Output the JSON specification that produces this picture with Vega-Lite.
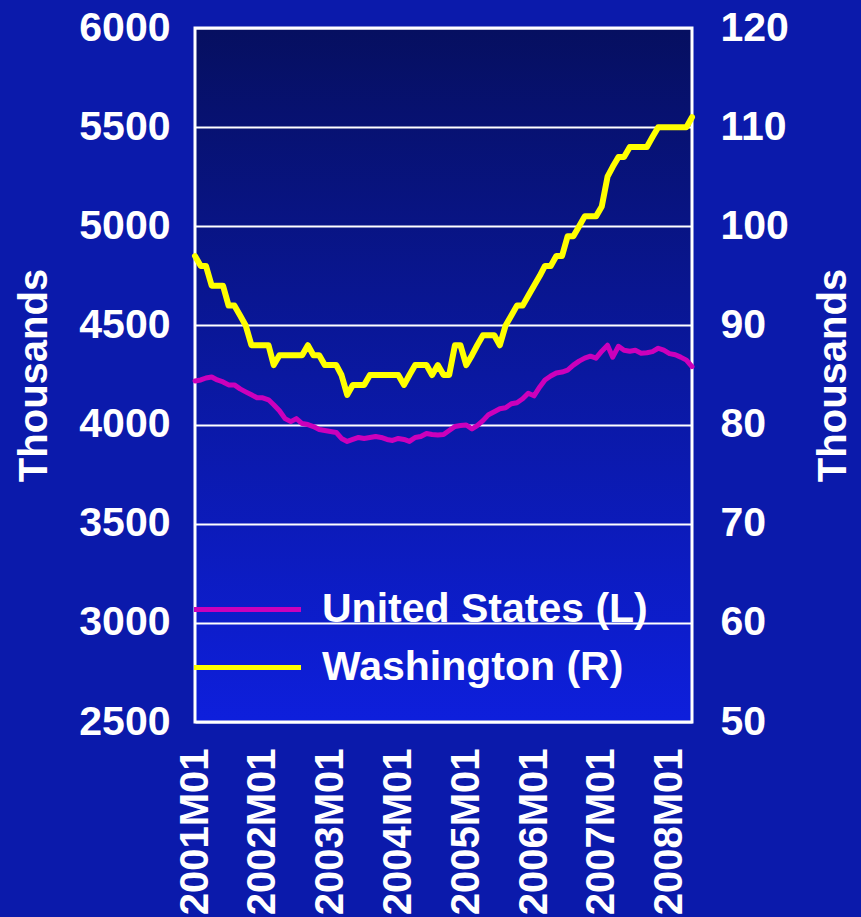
{
  "$schema": "https://vega.github.io/schema/vega-lite/v6.json",
  "width": 497,
  "height": 694,
  "autosize": {"type": "none"},
  "padding": {"left": 195, "top": 28, "right": 169, "bottom": 195},
  "background": "#0b1aab",
  "config": {
    "view": {"stroke": "white", "strokeWidth": 3, "fill": {"gradient": "linear", "x1": 0, "y1": 0, "x2": 0, "y2": 1, "stops": [{"offset": 0, "color": "#060f60"}, {"offset": 0.5, "color": "#0a18a0"}, {"offset": 1, "color": "#0e1fdc"}]}},
    "font": "Liberation Sans",
    "axis": {"labelFont": "Liberation Sans", "labelFontWeight": "bold", "labelFontSize": 41, "labelColor": "white", "labelLimit": 400, "titleFont": "Liberation Sans", "titleFontWeight": "bold", "titleFontSize": 40, "titleColor": "white", "ticks": false, "domain": false},
    "legend": {"labelFont": "Liberation Sans", "labelFontWeight": "bold", "labelFontSize": 41, "labelColor": "white", "labelLimit": 500}
  },
  "data": {"values": [
    {"d":"2001-01-01","us":4220,"wa":97},{"d":"2001-02-01","us":4225,"wa":96},{"d":"2001-03-01","us":4235,"wa":96},{"d":"2001-04-01","us":4240,"wa":94},{"d":"2001-05-01","us":4225,"wa":94},{"d":"2001-06-01","us":4215,"wa":94},{"d":"2001-07-01","us":4200,"wa":92},{"d":"2001-08-01","us":4200,"wa":92},{"d":"2001-09-01","us":4180,"wa":91},{"d":"2001-10-01","us":4165,"wa":90},{"d":"2001-11-01","us":4150,"wa":88},{"d":"2001-12-01","us":4135,"wa":88},
    {"d":"2002-01-01","us":4135,"wa":88},{"d":"2002-02-01","us":4125,"wa":88},{"d":"2002-03-01","us":4100,"wa":86},{"d":"2002-04-01","us":4070,"wa":87},{"d":"2002-05-01","us":4030,"wa":87},{"d":"2002-06-01","us":4015,"wa":87},{"d":"2002-07-01","us":4030,"wa":87},{"d":"2002-08-01","us":4005,"wa":87},{"d":"2002-09-01","us":4000,"wa":88},{"d":"2002-10-01","us":3990,"wa":87},{"d":"2002-11-01","us":3975,"wa":87},{"d":"2002-12-01","us":3970,"wa":86},
    {"d":"2003-01-01","us":3965,"wa":86},{"d":"2003-02-01","us":3960,"wa":86},{"d":"2003-03-01","us":3930,"wa":85},{"d":"2003-04-01","us":3915,"wa":83},{"d":"2003-05-01","us":3925,"wa":84},{"d":"2003-06-01","us":3935,"wa":84},{"d":"2003-07-01","us":3930,"wa":84},{"d":"2003-08-01","us":3935,"wa":85},{"d":"2003-09-01","us":3940,"wa":85},{"d":"2003-10-01","us":3935,"wa":85},{"d":"2003-11-01","us":3925,"wa":85},{"d":"2003-12-01","us":3920,"wa":85},
    {"d":"2004-01-01","us":3930,"wa":85},{"d":"2004-02-01","us":3925,"wa":84},{"d":"2004-03-01","us":3915,"wa":85},{"d":"2004-04-01","us":3935,"wa":86},{"d":"2004-05-01","us":3940,"wa":86},{"d":"2004-06-01","us":3955,"wa":86},{"d":"2004-07-01","us":3950,"wa":85},{"d":"2004-08-01","us":3948,"wa":86},{"d":"2004-09-01","us":3950,"wa":85},{"d":"2004-10-01","us":3970,"wa":85},{"d":"2004-11-01","us":3990,"wa":88},{"d":"2004-12-01","us":3995,"wa":88},
    {"d":"2005-01-01","us":3998,"wa":86},{"d":"2005-02-01","us":3978,"wa":87},{"d":"2005-03-01","us":3995,"wa":88},{"d":"2005-04-01","us":4020,"wa":89},{"d":"2005-05-01","us":4050,"wa":89},{"d":"2005-06-01","us":4065,"wa":89},{"d":"2005-07-01","us":4080,"wa":88},{"d":"2005-08-01","us":4085,"wa":90},{"d":"2005-09-01","us":4105,"wa":91},{"d":"2005-10-01","us":4110,"wa":92},{"d":"2005-11-01","us":4130,"wa":92},{"d":"2005-12-01","us":4158,"wa":93},
    {"d":"2006-01-01","us":4145,"wa":94},{"d":"2006-02-01","us":4190,"wa":95},{"d":"2006-03-01","us":4225,"wa":96},{"d":"2006-04-01","us":4245,"wa":96},{"d":"2006-05-01","us":4260,"wa":97},{"d":"2006-06-01","us":4265,"wa":97},{"d":"2006-07-01","us":4275,"wa":99},{"d":"2006-08-01","us":4300,"wa":99},{"d":"2006-09-01","us":4320,"wa":100},{"d":"2006-10-01","us":4335,"wa":101},{"d":"2006-11-01","us":4345,"wa":101},{"d":"2006-12-01","us":4335,"wa":101},
    {"d":"2007-01-01","us":4370,"wa":102},{"d":"2007-02-01","us":4400,"wa":105},{"d":"2007-03-01","us":4340,"wa":106},{"d":"2007-04-01","us":4395,"wa":107},{"d":"2007-05-01","us":4375,"wa":107},{"d":"2007-06-01","us":4370,"wa":108},{"d":"2007-07-01","us":4375,"wa":108},{"d":"2007-08-01","us":4360,"wa":108},{"d":"2007-09-01","us":4362,"wa":108},{"d":"2007-10-01","us":4368,"wa":109},{"d":"2007-11-01","us":4385,"wa":110},{"d":"2007-12-01","us":4375,"wa":110},
    {"d":"2008-01-01","us":4358,"wa":110},{"d":"2008-02-01","us":4352,"wa":110},{"d":"2008-03-01","us":4340,"wa":110},{"d":"2008-04-01","us":4325,"wa":110},{"d":"2008-05-01","us":4292,"wa":111}
  ]},
  "encoding": {
    "x": {
      "field": "d", "type": "temporal",
      "scale": {"type": "utc", "domain": [{"year": 2001, "month": 1, "date": 1, "utc": true}, {"year": 2008, "month": 5, "date": 1, "utc": true}]},
      "axis": {
        "title": null, "grid": false, "labelFontSize": 40,
        "labelExpr": "utcFormat(datum.value, '%YM%m')",
        "values": [{"year": 2001, "month": 1, "date": 1, "utc": true}, {"year": 2002, "month": 1, "date": 1, "utc": true}, {"year": 2003, "month": 1, "date": 1, "utc": true}, {"year": 2004, "month": 1, "date": 1, "utc": true}, {"year": 2005, "month": 1, "date": 1, "utc": true}, {"year": 2006, "month": 1, "date": 1, "utc": true}, {"year": 2007, "month": 1, "date": 1, "utc": true}, {"year": 2008, "month": 1, "date": 1, "utc": true}],
        "labelAngle": 270, "labelAlign": "right", "labelBaseline": "middle", "labelPadding": 26, "labelOverlap": false, "labelFlush": false
      }
    }
  },
  "layer": [
    {
      "mark": {"type": "line", "strokeWidth": 5, "strokeJoin": "round", "strokeCap": "round"},
      "encoding": {
        "y": {"field": "us", "type": "quantitative", "scale": {"domain": [2500, 6000], "nice": false, "zero": false},
          "axis": {"title": "Thousands", "orient": "left", "format": "d", "values": [2500, 3000, 3500, 4000, 4500, 5000, 5500, 6000], "grid": true, "gridColor": "white", "gridWidth": 2, "gridOpacity": 1, "labelPadding": 25, "titlePadding": 24, "titleAngle": 270}},
        "color": {"datum": "United States (L)", "type": "nominal",
          "scale": {"domain": ["United States (L)", "Washington (R)"], "range": ["#cc00bb", "#ffff00"]},
          "legend": {"title": null, "orient": "none", "legendX": 32, "legendY": 561, "symbolType": "M-5,0L5,0", "symbolSize": 458, "symbolStrokeWidth": 5, "labelOffset": 54, "rowPadding": 16, "padding": 0, "symbolOpacity": 1}}
      }
    },
    {
      "mark": {"type": "line", "strokeWidth": 6, "strokeJoin": "round", "strokeCap": "round"},
      "encoding": {
        "y": {"field": "wa", "type": "quantitative", "scale": {"domain": [50, 120], "nice": false, "zero": false},
          "axis": {"title": "Thousands", "orient": "right", "format": "d", "values": [50, 60, 70, 80, 90, 100, 110, 120], "grid": false, "labelPadding": 28, "titlePadding": 25, "titleAngle": 270, "titleBaseline": "top"}},
        "color": {"datum": "Washington (R)", "type": "nominal"}
      }
    }
  ],
  "resolve": {"scale": {"y": "independent"}}
}
